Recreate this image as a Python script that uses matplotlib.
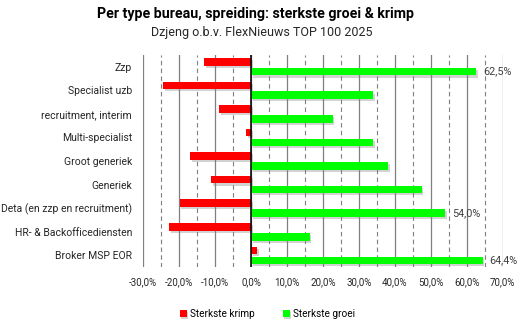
import numpy as np
import matplotlib
matplotlib.use('Agg')
import matplotlib.pyplot as plt
import matplotlib.patheffects as pe
from matplotlib.ticker import MultipleLocator, FuncFormatter

categories = ["Zzp", "Specialist uzb", "recruitment, interim", "Multi-specialist",
              "Groot generiek", "Generiek", "Deta (en zzp en recruitment)",
              "HR- & Backofficediensten", "Broker MSP EOR"]
krimp = [-13.1, -24.5, -8.9, -1.4, -16.9, -11.1, -19.8, -22.8, 1.7]
groei = [62.5, 34.0, 22.7, 34.0, 38.2, 47.4, 54.0, 16.3, 64.4]
labelled = {"Zzp": "62,5%", "Deta (en zzp en recruitment)": "54,0%", "Broker MSP EOR": "64,4%"}

plt.rcParams['font.family'] = ['Roboto', 'DejaVu Sans']

fig = plt.figure(figsize=(5.26, 3.25), dpi=100)
ax = fig.add_axes([0.272, 0.178, 0.684, 0.653])

y = np.arange(len(categories))
h = 0.32
shadow = [pe.SimplePatchShadow(offset=(1.2, -1.5), shadow_rgbFace='gray', alpha=0.35), pe.Normal()]
rb = ax.barh(y - 0.21, krimp, height=h, color='#ff0000', label='Sterkste krimp', zorder=3)
gb = ax.barh(y + 0.21, groei, height=h, color='#00ff00', label='Sterkste groei', zorder=3)
for b in list(rb) + list(gb):
    b.set_path_effects(shadow)

for i, c in enumerate(categories):
    if c in labelled:
        ax.annotate(labelled[c], (groei[i], y[i] + 0.21), xytext=(5, 0), textcoords='offset points',
                    va='center', ha='left', fontsize=7.8, color='#404040')

ax.set_xlim(-30, 70)
ax.set_ylim(len(categories) - 0.5, -0.5)
ax.xaxis.set_major_locator(MultipleLocator(10))
ax.xaxis.set_minor_locator(MultipleLocator(5))
ax.xaxis.set_major_formatter(FuncFormatter(lambda v, p: f"{v:.1f}%".replace('.', ',')))
ax.grid(axis='x', which='major', color='#7f7f7f', lw=0.9, zorder=0)
ax.grid(axis='x', which='minor', color='#7f7f7f', lw=0.8, ls=(0, (4, 3)), zorder=0)
ax.axvline(0, color='black', lw=1.1, zorder=4)
ax.set_yticks(y)
ax.set_yticklabels(categories, fontsize=7.5, color='#262626')
ax.tick_params(axis='x', labelsize=7, colors='#262626', length=0, pad=7)
ax.tick_params(axis='x', which='minor', length=0)
ax.tick_params(axis='y', length=0, pad=8)
for s in ax.spines.values():
    s.set_visible(False)

fig.text(0.485, 0.945, "Per type bureau, spreiding: sterkste groei & krimp", ha='center',
         fontsize=10.2, fontweight='bold', color='black')
fig.text(0.497, 0.888, "Dzjeng o.b.v. FlexNieuws TOP 100 2025", ha='center', fontsize=9, color='#262626')

fig.legend(handles=[rb, gb], loc='center', bbox_to_anchor=(0.508, 0.035), ncol=2, frameon=False,
           fontsize=7.2, handlelength=0.7, handleheight=0.7, columnspacing=2.8, handletextpad=0.3)

fig.savefig('out.png', dpi=100)
